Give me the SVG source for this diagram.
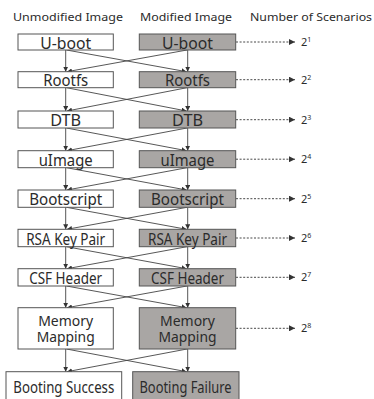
<svg xmlns="http://www.w3.org/2000/svg" width="374" height="399" viewBox="0 0 374 399">
  <defs>
    <marker id="ah" viewBox="0 0 8 8" refX="8" refY="4" markerWidth="5" markerHeight="5" orient="auto" markerUnits="userSpaceOnUse">
      <path d="M0,0 L8,4 L0,8 z" fill="#333"/>
    </marker>
    <marker id="ahd" viewBox="0 0 8 8" refX="8" refY="4" markerWidth="6" markerHeight="6" orient="auto" markerUnits="userSpaceOnUse">
      <path d="M0,0 L8,4 L0,8 z" fill="#333"/>
    </marker>
  </defs>
  <style>
    text { font-family: "Noto Sans", "Liberation Sans", sans-serif; fill: #2b2b2b; }
    .hdr { font-size: 11px; }
    .lbl { font-size: 16px; text-anchor: middle; }
    .lbl2 { font-size: 15px; text-anchor: middle; }
    .sc { font-size: 11px; }
    .sup { font-size: 7px; }
    .plain { fill: #ffffff; stroke: #555; stroke-width: 1; }
    .mod { fill: #a9a6a4; stroke: #555; stroke-width: 1; }
    .flow { stroke: #444; stroke-width: 0.9; fill: none; marker-end: url(#ah); }
    .dash { stroke: #333; stroke-width: 0.9; stroke-dasharray: 2 1.6; fill: none; marker-end: url(#ahd); }
  </style>
  <rect width="374" height="399" fill="#ffffff"/>

  <!-- column headers -->
  <g id="headers">
    <text class="hdr" x="13" y="20.5" textLength="110" lengthAdjust="spacingAndGlyphs">Unmodified Image</text>
    <text class="hdr" x="140" y="20.5" textLength="92" lengthAdjust="spacingAndGlyphs">Modified Image</text>
    <text class="hdr" x="250" y="20.5" textLength="122" lengthAdjust="spacingAndGlyphs">Number of Scenarios</text>
  </g>

  <!-- connectors -->
  <g id="connectors">
    <!-- U-boot -> Rootfs -->
    <path class="flow" d="M65.7,50 V71.7"/><path class="flow" d="M187.7,50 V71.7"/>
    <path class="flow" d="M66.5,50 L186.5,71.7"/><path class="flow" d="M187,50 L67,71.7"/>
    <!-- Rootfs -> DTB -->
    <path class="flow" d="M65.7,87.7 V111"/><path class="flow" d="M187.7,87.7 V111"/>
    <path class="flow" d="M66.5,87.7 L186.5,111"/><path class="flow" d="M187,87.7 L67,111"/>
    <!-- DTB -> uImage -->
    <path class="flow" d="M65.7,128 V150.7"/><path class="flow" d="M187.7,128 V150.7"/>
    <path class="flow" d="M66.5,128 L186.5,150.7"/><path class="flow" d="M187,128 L67,150.7"/>
    <!-- uImage -> Bootscript -->
    <path class="flow" d="M65.7,167.7 V190"/><path class="flow" d="M187.7,167.7 V190"/>
    <path class="flow" d="M66.5,167.7 L186.5,190"/><path class="flow" d="M187,167.7 L67,190"/>
    <!-- Bootscript -> RSA Key Pair -->
    <path class="flow" d="M65.7,207.3 V229.3"/><path class="flow" d="M187.7,207.3 V229.3"/>
    <path class="flow" d="M66.5,207.3 L186.5,229.3"/><path class="flow" d="M187,207.3 L67,229.3"/>
    <!-- RSA Key Pair -> CSF Header -->
    <path class="flow" d="M65.7,246.7 V268.7"/><path class="flow" d="M187.7,246.7 V268.7"/>
    <path class="flow" d="M66.5,246.7 L186.5,268.7"/><path class="flow" d="M187,246.7 L67,268.7"/>
    <!-- CSF Header -> Memory Mapping -->
    <path class="flow" d="M65.7,286 V307.7"/><path class="flow" d="M187.7,286 V307.7"/>
    <path class="flow" d="M66.5,286 L186.5,307.7"/><path class="flow" d="M187,286 L67,307.7"/>
    <!-- Memory Mapping -> Booting result -->
    <path class="flow" d="M65.7,349 V371.7"/><path class="flow" d="M187.7,349 V371.7"/>
    <path class="flow" d="M66.5,349 L186.5,371.7"/><path class="flow" d="M187,349 L67,371.7"/>

    <!-- scenario counts -->
    <path class="dash" d="M236,42 H295"/>
    <path class="dash" d="M236,79.7 H295"/>
    <path class="dash" d="M236,119.7 H295"/>
    <path class="dash" d="M236,159.2 H295"/>
    <path class="dash" d="M236,198.7 H295"/>
    <path class="dash" d="M236,238 H295"/>
    <path class="dash" d="M236,277.3 H295"/>
    <path class="dash" d="M236,328.3 H295"/>
  </g>

  <!-- unmodified column -->
  <g id="u-uboot"><rect class="plain" x="18" y="34" width="95.3" height="16"/><text class="lbl" x="65.7" y="48.5" textLength="51" lengthAdjust="spacingAndGlyphs">U-boot</text></g>
  <g id="u-rootfs"><rect class="plain" x="18" y="71.7" width="95.3" height="16"/><text class="lbl" x="65.7" y="86.2" textLength="45" lengthAdjust="spacingAndGlyphs">Rootfs</text></g>
  <g id="u-dtb"><rect class="plain" x="18" y="111" width="95.3" height="17"/><text class="lbl" x="65.7" y="126" textLength="31" lengthAdjust="spacingAndGlyphs">DTB</text></g>
  <g id="u-uimage"><rect class="plain" x="18" y="150.7" width="95.3" height="17"/><text class="lbl" x="65.7" y="165.5" textLength="54" lengthAdjust="spacingAndGlyphs">uImage</text></g>
  <g id="u-bootscript"><rect class="plain" x="18" y="190" width="95.3" height="17.3"/><text class="lbl" x="65.7" y="205" textLength="73" lengthAdjust="spacingAndGlyphs">Bootscript</text></g>
  <g id="u-rsa"><rect class="plain" x="18" y="229.3" width="95.3" height="17.4"/><text class="lbl" x="65.7" y="244.5" textLength="79" lengthAdjust="spacingAndGlyphs">RSA Key Pair</text></g>
  <g id="u-csf"><rect class="plain" x="18" y="268.7" width="95.3" height="17.3"/><text class="lbl" x="65.7" y="284" textLength="73" lengthAdjust="spacingAndGlyphs">CSF Header</text></g>
  <g id="u-memory"><rect class="plain" x="18" y="307.7" width="95.3" height="41.3"/><text class="lbl2" x="65.7" y="325.5" textLength="55" lengthAdjust="spacingAndGlyphs">Memory</text><text class="lbl2" x="65.7" y="341.7" textLength="58" lengthAdjust="spacingAndGlyphs">Mapping</text></g>
  <g id="u-success"><rect class="plain" x="6" y="371.7" width="115.7" height="28"/><text class="lbl" x="63.8" y="393.3" textLength="101" lengthAdjust="spacingAndGlyphs">Booting Success</text></g>

  <!-- modified column -->
  <g id="m-uboot"><rect class="mod" x="139.3" y="34" width="96.4" height="16"/><text class="lbl" x="187.5" y="48.5" textLength="51" lengthAdjust="spacingAndGlyphs">U-boot</text></g>
  <g id="m-rootfs"><rect class="mod" x="139.3" y="71.7" width="96.4" height="16"/><text class="lbl" x="187.5" y="86.2" textLength="45" lengthAdjust="spacingAndGlyphs">Rootfs</text></g>
  <g id="m-dtb"><rect class="mod" x="139.3" y="111" width="96.4" height="17"/><text class="lbl" x="187.5" y="126" textLength="31" lengthAdjust="spacingAndGlyphs">DTB</text></g>
  <g id="m-uimage"><rect class="mod" x="139.3" y="150.7" width="96.4" height="17"/><text class="lbl" x="187.5" y="165.5" textLength="54" lengthAdjust="spacingAndGlyphs">uImage</text></g>
  <g id="m-bootscript"><rect class="mod" x="139.3" y="190" width="96.4" height="17.3"/><text class="lbl" x="187.5" y="205" textLength="73" lengthAdjust="spacingAndGlyphs">Bootscript</text></g>
  <g id="m-rsa"><rect class="mod" x="139.3" y="229.3" width="96.4" height="17.4"/><text class="lbl" x="187.5" y="244.5" textLength="79" lengthAdjust="spacingAndGlyphs">RSA Key Pair</text></g>
  <g id="m-csf"><rect class="mod" x="139.3" y="268.7" width="96.4" height="17.3"/><text class="lbl" x="187.5" y="284" textLength="73" lengthAdjust="spacingAndGlyphs">CSF Header</text></g>
  <g id="m-memory"><rect class="mod" x="139.3" y="307.7" width="96.4" height="41.3"/><text class="lbl2" x="187.5" y="325.5" textLength="55" lengthAdjust="spacingAndGlyphs">Memory</text><text class="lbl2" x="187.5" y="341.7" textLength="58" lengthAdjust="spacingAndGlyphs">Mapping</text></g>
  <g id="m-failure"><rect class="mod" x="132.7" y="371.7" width="106.3" height="28"/><text class="lbl" x="185.5" y="393.3" textLength="92" lengthAdjust="spacingAndGlyphs">Booting Failure</text></g>

  <!-- scenario count labels -->
  <g id="counts">
    <text class="sc" x="301" y="46">2<tspan class="sup" dy="-4">1</tspan></text>
    <text class="sc" x="301" y="83.7">2<tspan class="sup" dy="-4">2</tspan></text>
    <text class="sc" x="301" y="123.7">2<tspan class="sup" dy="-4">3</tspan></text>
    <text class="sc" x="301" y="163.2">2<tspan class="sup" dy="-4">4</tspan></text>
    <text class="sc" x="301" y="202.7">2<tspan class="sup" dy="-4">5</tspan></text>
    <text class="sc" x="301" y="242">2<tspan class="sup" dy="-4">6</tspan></text>
    <text class="sc" x="301" y="281.3">2<tspan class="sup" dy="-4">7</tspan></text>
    <text class="sc" x="301" y="332.3">2<tspan class="sup" dy="-4">8</tspan></text>
  </g>
</svg>
